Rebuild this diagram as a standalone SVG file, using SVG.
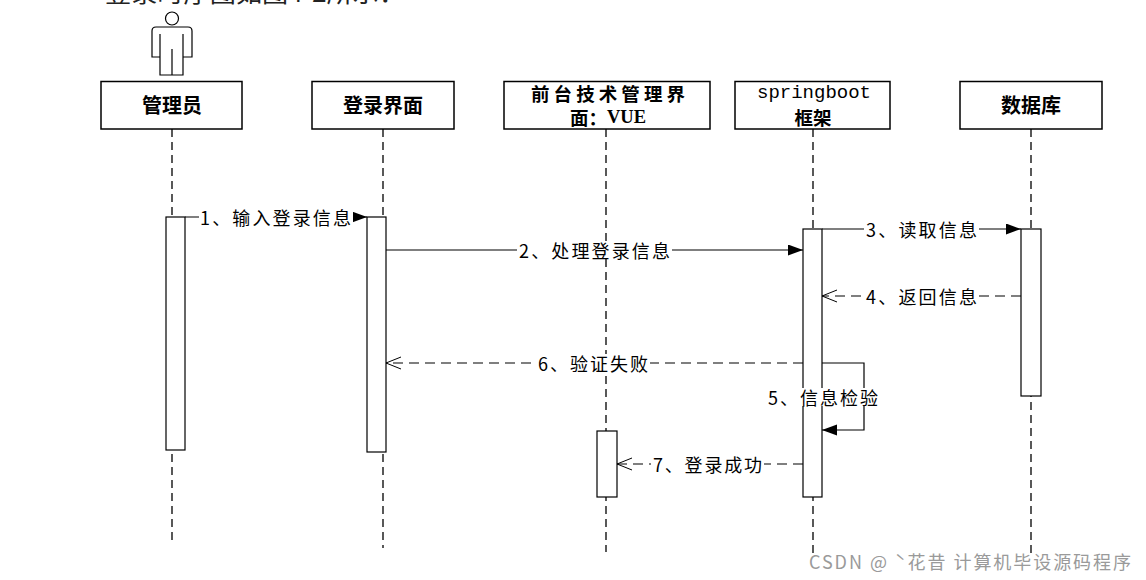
<svg xmlns="http://www.w3.org/2000/svg" width="1146" height="580" viewBox="0 0 1146 580">
<style>
.box{fill:#fff;stroke:#000;stroke-width:1.5}
.act{fill:#fff;stroke:#000;stroke-width:1.2}
.life{stroke:#000;stroke-width:1.3;stroke-dasharray:8 5;fill:none}
.title{font-family:"Noto Sans CJK SC","Liberation Serif",serif;font-size:20px;font-weight:bold;fill:#000;text-anchor:middle;dominant-baseline:central}
.title2{font-family:"Noto Sans CJK SC","Liberation Serif",serif;font-size:18.5px;font-weight:bold;fill:#000;text-anchor:middle;dominant-baseline:central}
.mono{font-family:"Liberation Mono","Noto Sans CJK SC",monospace;font-size:19px;font-weight:normal;fill:#000;text-anchor:middle;dominant-baseline:central}
.msg{stroke:#000;stroke-width:1.2;fill:none}
.dash{stroke-dasharray:10 6}
.lbl{font-family:"Noto Sans CJK SC","Liberation Sans",sans-serif;font-size:18px;fill:#000;dominant-baseline:central}
.bg{fill:#fff}
</style>
<defs>
<marker id="fill" markerUnits="userSpaceOnUse" markerWidth="16" markerHeight="12" refX="15" refY="5.5" orient="auto">
<path d="M0,0 L15,5.5 L0,11 Z" fill="#000" stroke="none"/>
</marker>
<marker id="open" markerUnits="userSpaceOnUse" markerWidth="17" markerHeight="14" refX="16" refY="7" orient="auto">
<path d="M1,1 L16,7 L1,13" fill="none" stroke="#000" stroke-width="1" stroke-dasharray="none"/>
</marker>
</defs>
<rect width="1146" height="580" fill="#fff"/>
<text x="105" y="2" font-family="Noto Sans CJK SC, sans-serif" font-size="24" fill="#222" textLength="300" lengthAdjust="spacingAndGlyphs">登录时序图如图4-2所示：</text>

<g id="actor">
<circle cx="172" cy="18.5" r="6.5" fill="#fff" stroke="#000" stroke-width="1.2"/>
<path d="M152,57 L152,31 Q152,27 156,27 L188,27 Q192,27 192,31 L192,57 L183,57 L183,75 L160,75 L160,57 Z M160,34 L160,57 M183,34 L183,57 M172,49 L172,75" fill="#fff" stroke="#000" stroke-width="1.2"/>
</g>

<g id="node-admin">
<line class="life" x1="172" y1="129" x2="172" y2="540"/>
<rect class="box" x="101" y="81.5" width="141" height="47.5"/>
<text class="title" x="172" y="104">管理员</text>
<rect class="act" x="166" y="217" width="19" height="233"/>
</g>

<g id="node-login">
<line class="life" x1="383" y1="129" x2="383" y2="548"/>
<rect class="box" x="312" y="81.5" width="142" height="47.5"/>
<text class="title" x="383" y="104">登录界面</text>
<rect class="act" x="367" y="217" width="19" height="235"/>
</g>

<g id="node-vue">
<line class="life" x1="606" y1="129" x2="606" y2="552"/>
<rect class="box" x="504" y="81.5" width="206" height="47.5"/>
<text class="title2" x="608" y="93" textLength="154" lengthAdjust="spacing">前台技术管理界</text>
<text class="title2" x="608" y="117">面：<tspan font-family="Liberation Serif, serif" font-weight="bold">VUE</tspan></text>
<rect class="act" x="597" y="431" width="20" height="66"/>
</g>

<g id="node-spring">
<line class="life" x1="813" y1="129" x2="813" y2="556"/>
<rect class="box" x="735" y="81.5" width="155" height="47.5"/>
<text class="mono" x="814" y="93">springboot</text>
<text class="title2" x="813" y="117">框架</text>
<rect class="act" x="803" y="229" width="19" height="268"/>
</g>

<g id="node-db">
<line class="life" x1="1031" y1="129" x2="1031" y2="556"/>
<rect class="box" x="960" y="81.5" width="142" height="47.5"/>
<text class="title" x="1031" y="104">数据库</text>
<rect class="act" x="1021" y="229" width="20" height="167"/>
</g>

<g id="connectors">
<line class="msg" x1="185" y1="217" x2="367" y2="217" marker-end="url(#fill)"/>
<line class="msg" x1="386" y1="250" x2="803" y2="250" marker-end="url(#fill)"/>
<line class="msg" x1="822" y1="229" x2="1021" y2="229" marker-end="url(#fill)"/>
<line class="msg dash" x1="1021" y1="296" x2="822" y2="296" marker-end="url(#open)"/>
<path class="msg" d="M822,363 H864 V430 H822" marker-end="url(#fill)"/>
<line class="msg dash" x1="803" y1="363" x2="386" y2="363" marker-end="url(#open)"/>
<line class="msg dash" x1="803" y1="464" x2="617" y2="464" marker-end="url(#open)"/>
</g>

<g id="labels">
<rect class="bg" x="199" y="208" width="154" height="18"/>
<text class="lbl" x="200" y="217" textLength="151" lengthAdjust="spacing">1、输入登录信息</text>
<rect class="bg" x="517" y="241" width="155" height="18"/>
<text class="lbl" x="519" y="250" textLength="151" lengthAdjust="spacing">2、处理登录信息</text>
<rect class="bg" x="864" y="220" width="115" height="18"/>
<text class="lbl" x="866" y="229" textLength="111" lengthAdjust="spacing">3、读取信息</text>
<rect class="bg" x="864" y="287" width="115" height="18"/>
<text class="lbl" x="866" y="296" textLength="111" lengthAdjust="spacing">4、返回信息</text>
<rect class="bg" x="766" y="388" width="114" height="18"/>
<text class="lbl" x="768" y="397" textLength="110" lengthAdjust="spacing">5、信息检验</text>
<rect class="bg" x="536" y="354" width="114" height="18"/>
<text class="lbl" x="538" y="363" textLength="110" lengthAdjust="spacing">6、验证失败</text>
<rect class="bg" x="651" y="455" width="113" height="18"/>
<text class="lbl" x="653" y="464" textLength="109" lengthAdjust="spacing">7、登录成功</text>
</g>

<text x="809" y="561" font-family="Noto Sans CJK SC, Liberation Sans, sans-serif" font-size="18" fill="#9a9a9a" dominant-baseline="central" textLength="322" lengthAdjust="spacing">CSDN @ ˋ花昔  计算机毕设源码程序</text>
</svg>
